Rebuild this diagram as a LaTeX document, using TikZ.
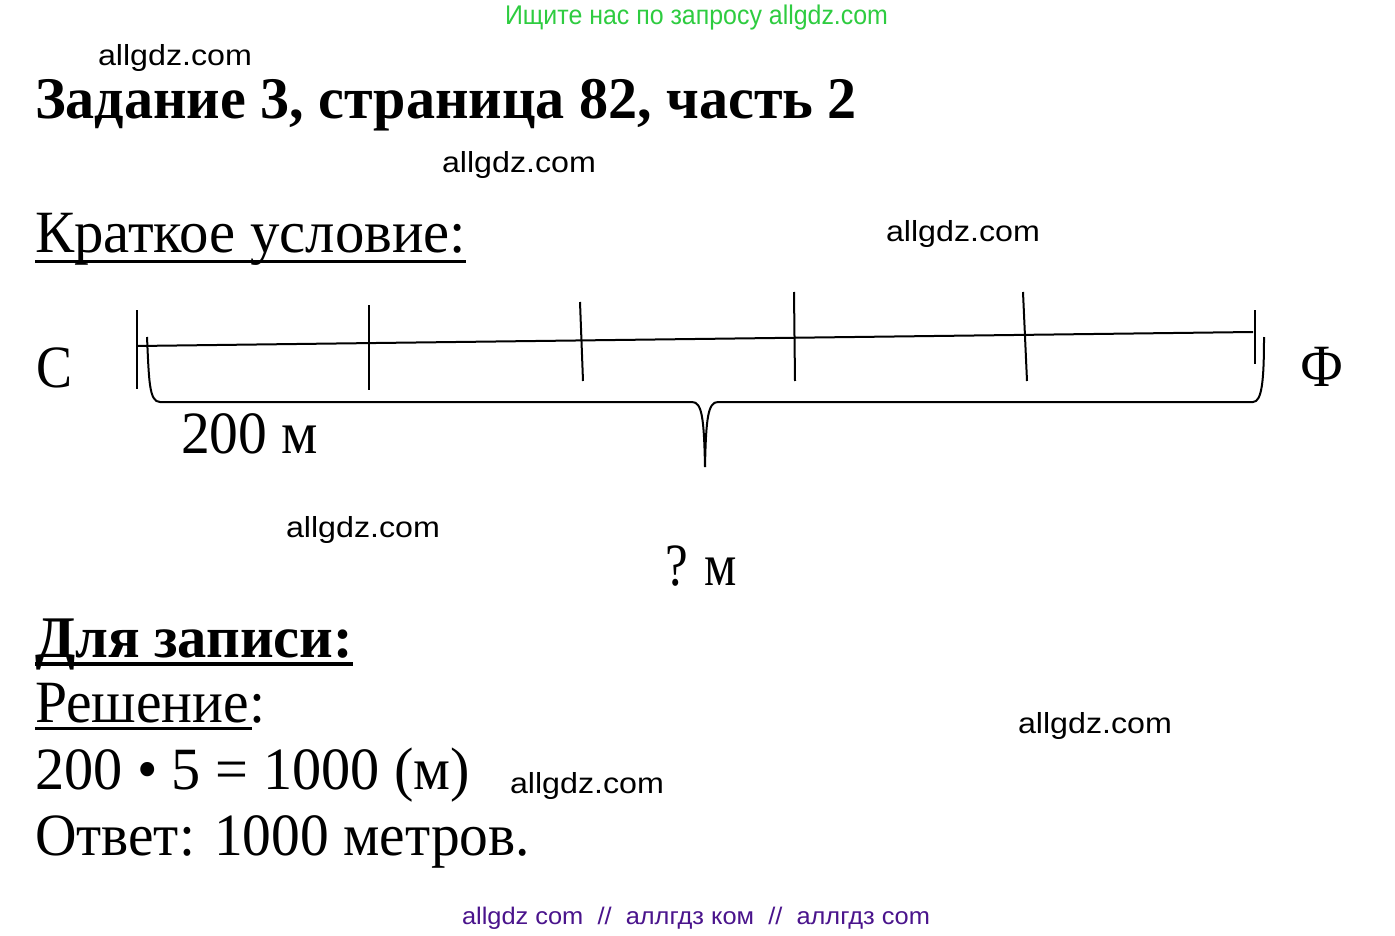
\documentclass[tikz,border=0pt]{standalone}
\usepackage{fontspec}
\setmainfont{Liberation Serif}
\newfontfamily\wmfont{Liberation Sans}
\usepackage{graphicx}
\definecolor{wmgreen}{RGB}{46,204,64}
\definecolor{wmpurple}{RGB}{74,20,140}
\newcommand\fitto[2]{\resizebox{#1pt}{\height}{#2}}
\tikzset{
  txt/.style={anchor=base west, inner sep=0pt, outer sep=0pt},
  wm/.style={txt, font=\wmfont\fontsize{29}{29}\selectfont},
  big/.style={txt, font=\fontsize{60}{60}\selectfont},
  bigb/.style={txt, font=\fontsize{59}{59}\selectfont\bfseries},
  ln/.style={line width=2pt, black},
  ul/.style={line width=3pt, black},
}
\begin{document}
\begin{tikzpicture}[x=1pt,y=-1pt]
\useasboundingbox (0,0) rectangle (1395,936);
\fill[white] (0,0) rectangle (1395,936);
% watermarks
\node[txt, text=wmgreen, font=\wmfont\fontsize{27}{27}\selectfont] (green) at (505,25) {\fitto{383}{Ищите нас по запросу allgdz.com}};
\node[wm] (w1) at (98,66) {\fitto{154}{allgdz.com}};
\node[wm] (w2) at (442,173) {\fitto{154}{allgdz.com}};
\node[wm] (w3) at (886,241) {\fitto{154}{allgdz.com}};
\node[wm] (w4) at (286,537) {\fitto{154}{allgdz.com}};
\node[wm] (w5) at (1018,733) {\fitto{154}{allgdz.com}};
\node[wm] (w6) at (510,793) {\fitto{154}{allgdz.com}};
\node[txt, text=wmpurple, font=\wmfont\fontsize{24}{24}\selectfont] (foot) at (462,924) {\fitto{468}{allgdz com\ \ //\ \ аллгдз ком\ \ //\ \ аллгдз com}};
% texts
\node[bigb] (title) at (35,119) {\fitto{822}{Задание 3, страница 82, часть 2}};
\node[big] (kratk) at (35,252) {\fitto{431}{Краткое условие:}};
\draw[ul] (35,261) -- (466,261);
\node[big] (S) at (36,387) {\fitto{36}{С}};
\node[big] (F) at (1300,386) {\fitto{43}{Ф}};
\node[big] (d200) at (181,453) {\fitto{137}{200 м}};
\node[big] (q) at (665,585) {\fitto{72}{? м}};
\node[bigb] (dlya) at (35,657) {\fitto{318}{Для записи:}};
\draw[line width=4pt] (35,664) -- (353,664);
\node[big] (resh) at (35,722) {\fitto{230}{Решение:}};
\draw[ul] (35,728) -- (252,728);
\node[big] (calc) at (35,789) {\fitto{435}{200 • 5 = 1000 (м)}};
\node[big] (otv) at (35,855) {\fitto{495}{Ответ: 1000 метров.}};
% segment line
\coordinate (L) at (137,346);
\coordinate (R) at (1253,332);
\draw[ln] (L) -- (R);
\draw[ln] (137,310) -- (137,389);
\draw[ln] (369,305) -- (369,390);
\draw[ln] (580,302) -- (583,381);
\draw[ln] (794,292) -- (795,381);
\draw[ln] (1023,292) -- (1027,381);
\draw[ln] (1255,310) -- (1255,364);
% brace
\draw[ln] (147,337) .. controls (149,380) and (149,402) .. (160,402) -- (692,402)
  .. controls (702,402) and (704,418) .. (705,467);
\draw[ln] (705,467) .. controls (706,418) and (708,402) .. (718,402) -- (1253,402)
  .. controls (1262,402) and (1264,380) .. (1264,337);
\end{tikzpicture}
\end{document}
